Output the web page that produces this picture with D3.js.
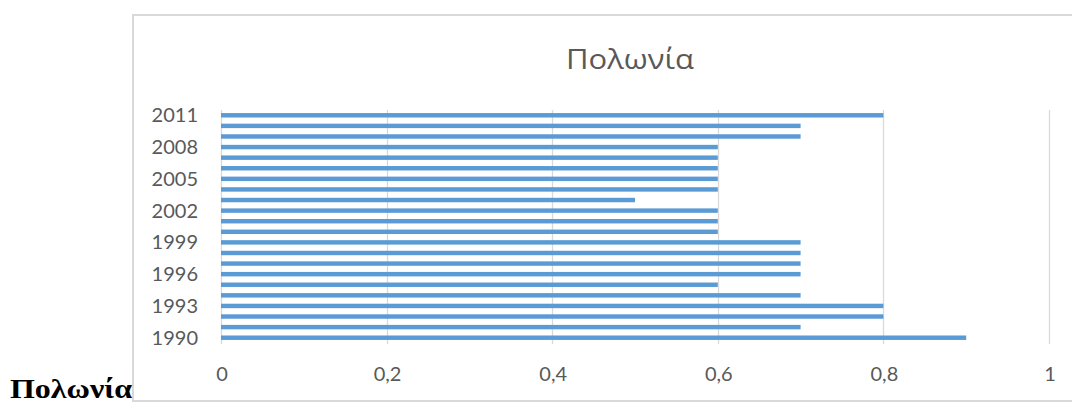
<!DOCTYPE html>
<html>
<head>
<meta charset="utf-8">
<script src="https://cdn.jsdelivr.net/npm/d3@7"></script>
<style>
  html, body { margin: 0; padding: 0; background: #fff; }
  svg { display: block; }
</style>
</head>
<body>
<svg id="chart" width="1072" height="403"></svg>
<script>
// Poland, 1990–2011
const years = [1990, 1991, 1992, 1993, 1994, 1995, 1996, 1997, 1998, 1999, 2000,
               2001, 2002, 2003, 2004, 2005, 2006, 2007, 2008, 2009, 2010, 2011];
const values = [0.9, 0.7, 0.8, 0.8, 0.7, 0.6, 0.7, 0.7, 0.7, 0.7, 0.6,
                0.6, 0.6, 0.5, 0.6, 0.6, 0.6, 0.6, 0.6, 0.7, 0.7, 0.8];
const xTicks = [0, 0.2, 0.4, 0.6, 0.8, 1];
const yLabelYears = [1990, 1993, 1996, 1999, 2002, 2005, 2008, 2011];
const chartTitle = "Πολωνία";
const captionText = "Πολωνία";

const data = years.map((y, i) => ({ year: y, value: values[i] }));

const svg = d3.select("#chart");
const grey = "#595959";
const gridColor = "#d9d9d9";
const barColor = "#5b9bd5";

svg.append("rect").attr("width", 1072).attr("height", 403).attr("fill", "#fff");

// chart frame
svg.append("rect")
  .attr("x", 133).attr("y", 15)
  .attr("width", 1000).attr("height", 386)
  .attr("fill", "none")
  .attr("stroke", gridColor)
  .attr("stroke-width", 2);

const x = d3.scaleLinear().domain([0, 1]).range([221, 1049]);
const y = d3.scaleBand()
  .domain(years.slice().reverse().map(String))
  .range([110, 343])
  .paddingInner(0.58)
  .paddingOuter(0.29);

// vertical gridlines
svg.append("g").selectAll("line")
  .data(xTicks)
  .join("line")
  .attr("x1", d => Math.round(x(d)) + 0.5)
  .attr("x2", d => Math.round(x(d)) + 0.5)
  .attr("y1", 110).attr("y2", 344)
  .attr("stroke", gridColor)
  .attr("stroke-width", 1.3);

// bars
svg.append("g").selectAll("rect")
  .data(data)
  .join("rect")
  .attr("x", x(0))
  .attr("y", d => y(String(d.year)))
  .attr("width", d => x(d.value) - x(0))
  .attr("height", y.bandwidth())
  .attr("fill", barColor);

// category labels
svg.append("g").selectAll("text")
  .data(yLabelYears)
  .join("text")
  .attr("x", 198)
  .attr("y", d => y(String(d)) + y.bandwidth() / 2 + 7)
  .attr("text-anchor", "end")
  .attr("font-family", "Lato, 'Open Sans', sans-serif")
  .attr("font-size", 20)
  .attr("fill", grey)
  .text(d => d);

// value axis labels
const fmt = d => d3.format("~g")(d).replace(".", ",");
svg.append("g").selectAll("text")
  .data(xTicks)
  .join("text")
  .attr("x", d => x(d) + 1)
  .attr("y", 381)
  .attr("text-anchor", "middle")
  .attr("font-family", "Lato, 'Open Sans', sans-serif")
  .attr("font-size", 20)
  .attr("fill", grey)
  .text(fmt);

// title
svg.append("text")
  .attr("x", 630)
  .attr("y", 69)
  .attr("text-anchor", "middle")
  .attr("font-family", "'Open Sans', 'Noto Sans', sans-serif")
  .attr("font-size", 28)
  .attr("fill", grey)
  .attr("textLength", 128)
  .attr("lengthAdjust", "spacingAndGlyphs")
  .text(chartTitle);

// caption below-left
svg.append("text")
  .attr("x", 10)
  .attr("y", 398)
  .attr("font-family", "'Liberation Serif', 'Times New Roman', serif")
  .attr("font-weight", "bold")
  .attr("font-size", 27)
  .attr("fill", "#000")
  .attr("textLength", 122)
  .attr("lengthAdjust", "spacingAndGlyphs")
  .text(captionText);
</script>
</body>
</html>
